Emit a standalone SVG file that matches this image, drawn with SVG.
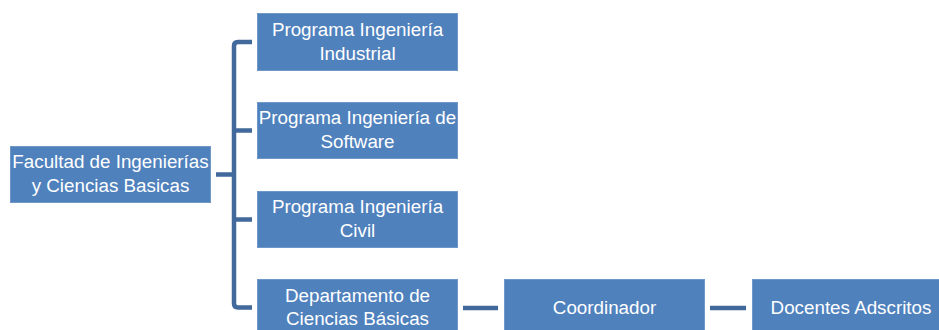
<svg xmlns="http://www.w3.org/2000/svg" width="939" height="330" viewBox="0 0 939 330">
<style>
.box{fill:#4f81bd;stroke:#6f97c8;stroke-width:1}
.t{font-family:"Liberation Sans","Open Sans",Arial,sans-serif;font-size:18.8px;fill:#ffffff;text-anchor:middle}
.c{fill:none;stroke:#41699c;stroke-width:4.5;stroke-linejoin:round}
</style>
<rect width="939" height="330" fill="#ffffff"/>
<g id="connectors">
<path class="c" d="M216,174.5 H234"/>
<path class="c" d="M252,42 H238 Q234,42 234,46 V303.5 Q234,307.5 238,307.5 H252"/>
<path class="c" d="M234,130.5 H252"/>
<path class="c" d="M234,219.5 H252"/>
<path class="c" d="M463,308 H498"/>
<path class="c" d="M710,308 H746"/>
</g>
<g id="facultad">
<rect class="box" x="10.5" y="146.5" width="200" height="56"/>
<text class="t" x="110.5" y="168">Facultad de Ingenierías</text>
<text class="t" x="110.5" y="192">y Ciencias Basicas</text>
</g>
<g id="industrial">
<rect class="box" x="257.5" y="13.5" width="200" height="57"/>
<text class="t" x="357.5" y="36">Programa Ingeniería</text>
<text class="t" x="357.5" y="60">Industrial</text>
</g>
<g id="software">
<rect class="box" x="257.5" y="102.5" width="200" height="56"/>
<text class="t" x="357.5" y="124">Programa Ingeniería de</text>
<text class="t" x="357.5" y="148">Software</text>
</g>
<g id="civil">
<rect class="box" x="257.5" y="191.5" width="200" height="56"/>
<text class="t" x="357.5" y="213">Programa Ingeniería</text>
<text class="t" x="357.5" y="237">Civil</text>
</g>
<g id="departamento">
<rect class="box" x="257.5" y="279.5" width="200" height="57"/>
<text class="t" x="357.5" y="302">Departamento de</text>
<text class="t" x="357.5" y="325">Ciencias Básicas</text>
</g>
<g id="coordinador">
<rect class="box" x="504.5" y="279.5" width="200" height="57"/>
<text class="t" x="604.5" y="314">Coordinador</text>
</g>
<g id="docentes">
<rect class="box" x="752.5" y="279.5" width="200" height="57"/>
<text class="t" x="851" y="314">Docentes Adscritos</text>
</g>
</svg>
